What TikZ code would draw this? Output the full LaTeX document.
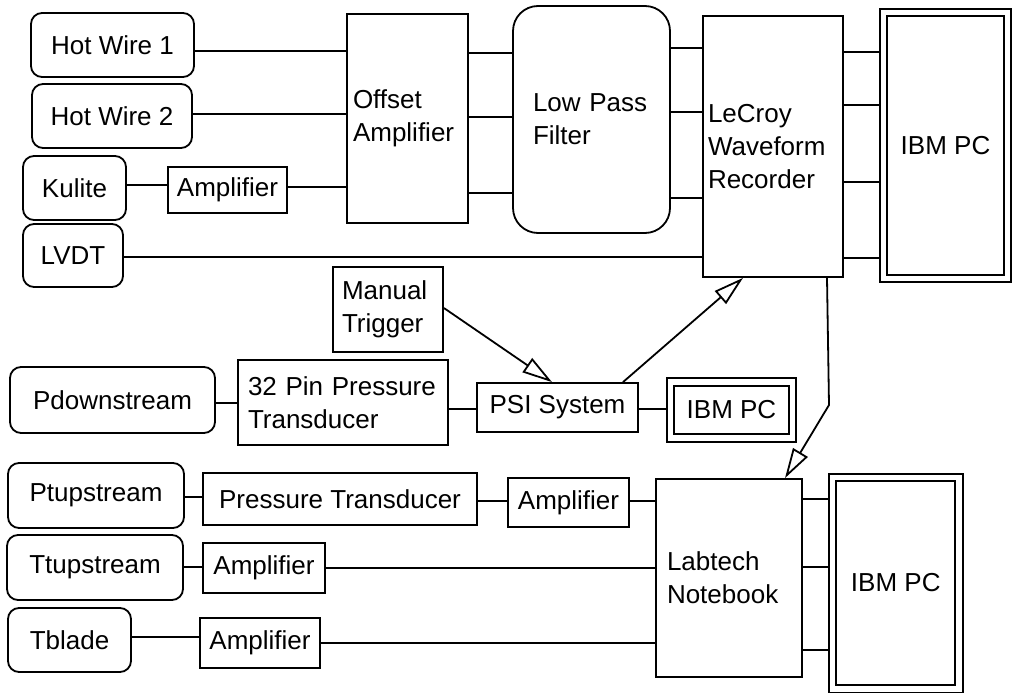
\documentclass[tikz,border=0pt]{standalone}
\usepackage{fontspec}
\setmainfont{Liberation Sans}
\usepackage{tikz}
\usetikzlibrary{arrows.meta,calc}

\begin{document}
\begin{tikzpicture}[x=1pt, y=-1pt, line width=1.8pt,
    every node/.style={font=\fontsize{26}{33}\selectfont, line width=1.8pt},
    src/.style={draw, rounded corners=11pt},
    blk/.style={draw},
    pc/.style={draw, double, double distance=5.5pt, outer sep=4.6pt},
    sig/.style={-{Triangle[open,length=30pt,width=17pt]}}]
    \useasboundingbox (0,0) rectangle (1017,698);
    \node[src, minimum width=163pt, minimum height=64pt] (hw1) at (112.5,45) {Hot Wire 1};
    \node[src, minimum width=160pt, minimum height=64pt] (hw2) at (112,116) {Hot Wire 2};
    \node[src, minimum width=103pt, minimum height=64pt] (kulite) at (74.5,188) {Kulite};
    \node[src, minimum width=100pt, minimum height=63pt] (lvdt) at (73,255.5) {LVDT};
    \node[blk, minimum width=119pt, minimum height=46pt] (kamp) at (227.5,190) {Amplifier};
    \node[blk, minimum height=209pt, inner xsep=6pt, text width=109pt, align=left] (offset) at (407.5,118.5) {Offset\\Amplifier};
    \node[blk, rounded corners=25pt, minimum height=227pt, inner xsep=20pt, text width=117pt, align=left] (lowpass) at (591.5,119.5) {Low Pass\\Filter};
    \node[blk, minimum height=261pt, inner xsep=5pt, text width=130pt, align=left] (lecroy) at (773,146.5) {LeCroy\\Waveform\\Recorder};
    \node[pc, minimum width=124pt, minimum height=266pt] (pca) at (945.5,145.5) {IBM PC};
    \node[blk, minimum height=85pt, inner xsep=9pt, text width=92pt, align=left] (trigger) at (388,309.5) {Manual\\Trigger};
    \node[src, minimum width=205pt, minimum height=66pt] (pdown) at (112.5,400) {Pdownstream};
    \node[blk, minimum height=85pt, inner xsep=10pt, text width=190pt, align=left] (pin) at (343,402.5) {32 Pin Pressure\\Transducer};
    \node[blk, minimum width=161pt, minimum height=49pt] (psi) at (557.5,407.5) {PSI System};
    \node[pc, minimum width=122pt, minimum height=56pt] (pcb) at (731.5,410) {IBM PC};
    \node[src, minimum width=176pt, minimum height=65pt] (ptup) at (96,495.5) {Ptupstream};
    \node[blk, minimum width=274pt, minimum height=52pt] (ptrans) at (340,499) {Pressure Transducer};
    \node[blk, minimum width=121pt, minimum height=49pt] (pamp) at (568.5,502.5) {Amplifier};
    \node[src, minimum width=176pt, minimum height=65pt] (ttup) at (95,567.5) {Ttupstream};
    \node[blk, minimum width=122pt, minimum height=50pt] (tamp) at (264,568) {Amplifier};
    \node[src, minimum width=123pt, minimum height=64pt] (tblade) at (69.5,640) {Tblade};
    \node[blk, minimum width=120pt, minimum height=50pt] (bamp) at (260,643) {Amplifier};
    \node[blk, minimum height=198pt, inner xsep=11pt, text width=124pt, align=left] (labtech) at (729,578) {Labtech\\Notebook};
    \node[pc, minimum width=126.5pt, minimum height=211.5pt] (pcc) at (895.75,583) {IBM PC};
    \coordinate (bend) at (829,405);
    \draw (hw1.east |- 0,51) -- (offset.west |- 0,51);
    \draw (hw2.east |- 0,114) -- (offset.west |- 0,114);
    \draw (kulite.east |- 0,185) -- (kamp.west |- 0,185);
    \draw (kamp.east |- 0,187) -- (offset.west |- 0,187);
    \draw (lvdt.east |- 0,257) -- (lecroy.west |- 0,257);
    \draw (offset.east |- 0,53) -- (lowpass.west |- 0,53);
    \draw (offset.east |- 0,117) -- (lowpass.west |- 0,117);
    \draw (offset.east |- 0,193) -- (lowpass.west |- 0,193);
    \draw (lowpass.east |- 0,48) -- (lecroy.west |- 0,48);
    \draw (lowpass.east |- 0,112) -- (lecroy.west |- 0,112);
    \draw (lowpass.east |- 0,198) -- (lecroy.west |- 0,198);
    \draw (lecroy.east |- 0,52) -- (pca.west |- 0,52);
    \draw (lecroy.east |- 0,105) -- (pca.west |- 0,105);
    \draw (lecroy.east |- 0,182) -- (pca.west |- 0,182);
    \draw (lecroy.east |- 0,258) -- (pca.west |- 0,258);
    \draw[sig] (trigger.east |- 0,308) -- (psi.north -| 552,0);
    \draw[sig] (psi.north -| 623,0) -- (lecroy.south -| 743,0);
    \draw[sig] (lecroy.south -| 827,0) -- (bend) -- (labtech.north -| 785,0);
    \draw (pdown.east |- 0,403) -- (pin.west |- 0,403);
    \draw (pin.east |- 0,409) -- (psi.west |- 0,409);
    \draw (psi.east |- 0,409) -- (pcb.west |- 0,409);
    \draw (ptup.east |- 0,497) -- (ptrans.west |- 0,497);
    \draw (ptrans.east |- 0,501) -- (pamp.west |- 0,501);
    \draw (pamp.east |- 0,501) -- (labtech.west |- 0,501);
    \draw (ttup.east |- 0,567) -- (tamp.west |- 0,567);
    \draw (tamp.east |- 0,568) -- (labtech.west |- 0,568);
    \draw (tblade.east |- 0,637) -- (bamp.west |- 0,637);
    \draw (bamp.east |- 0,643) -- (labtech.west |- 0,643);
    \draw (labtech.east |- 0,499) -- (pcc.west |- 0,499);
    \draw (labtech.east |- 0,567) -- (pcc.west |- 0,567);
    \draw (labtech.east |- 0,650) -- (pcc.west |- 0,650);
\end{tikzpicture}
\end{document}
